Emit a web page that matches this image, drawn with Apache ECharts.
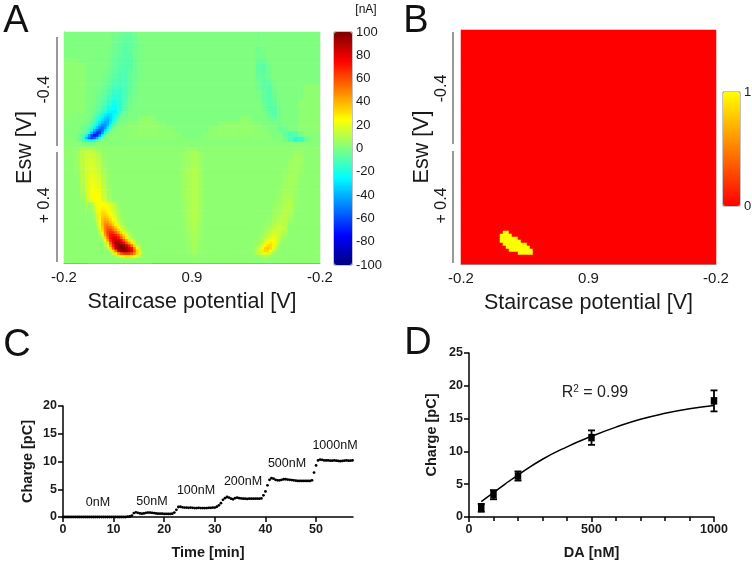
<!DOCTYPE html>
<html>
<head>
<meta charset="utf-8">
<style>
  html, body { margin: 0; padding: 0; background: #fff; }
  #chart { width: 752px; height: 563px; }
</style>
<script src="https://cdn.jsdelivr.net/npm/echarts@6/dist/echarts.min.js"></script>
</head>
<body>
<div id="chart"></div>
<script>
// panel A: current in nA, top row first
const currentRows = [
  [0,0,0,0,0,0,0,0,0,-2,-3,-5,-5,-2,0,0,0,0,0,0,0,0,0,0, 0,0,0,0,0,0,0,0,0,0,0,0,-1,0,0,0,0,0,0,0,0,0,0,0],
  [0,0,0,0,0,0,0,0,0,-3,-5,-6,-6,-3,-1,0,0,0,0,0,0,0,0,0, 0,0,0,0,0,0,0,0,0,0,0,0,-1,0,0,0,0,0,0,0,0,0,0,0],
  [0,0,0,0,0,0,0,0,0,-3,-5,-7,-6,-3,-1,0,0,0,0,0,0,0,0,0, 0,0,0,0,0,0,0,0,0,0,0,0,-1,0,0,0,0,0,0,0,0,0,0,0],
  [0,0,0,0,0,0,0,0,-1,-3,-6,-8,-6,-3,-1,0,0,0,0,0,0,0,0,0, 0,0,0,0,0,0,0,0,0,0,0,0,-3,-1,0,0,0,0,0,0,0,0,0,0],
  [0,0,0,0,0,0,0,0,-1,-4,-6,-8,-7,-3,-1,0,0,0,0,0,0,0,0,0, 0,0,0,0,0,0,0,0,0,0,0,0,-2,-2,0,0,0,0,0,0,0,0,0,0],
  [2,2,2,0,0,0,0,0,-2,-5,-7,-8,-7,-3,-1,0,0,0,0,0,0,0,0,0, 0,0,0,0,0,0,0,0,0,0,0,0,-4,-4,-1,0,0,0,0,0,0,0,0,0],
  [3,3,3,3,0,0,0,0,-2,-5,-8,-9,-7,-3,-1,0,0,0,0,0,0,0,0,0, 0,0,0,0,0,0,0,0,0,0,0,0,-6,-7,-2,0,0,0,0,0,0,0,0,0],
  [3,3,3,3,0,0,0,-1,-3,-6,-9,-9,-6,-3,-1,0,0,0,0,0,0,0,0,0, 0,0,0,0,0,0,0,0,0,0,0,0,-6,-7,-3,0,0,0,0,0,0,0,0,0],
  [3,3,3,3,0,0,0,-2,-4,-7,-10,-10,-6,-3,-1,0,0,0,0,0,0,0,0,0, 0,0,0,0,0,0,0,0,0,0,0,0,-5,-6,-3,0,0,0,0,0,0,0,0,0],
  [3,3,3,3,0,0,-1,-2,-5,-9,-11,-10,-6,-3,0,0,0,0,0,0,0,0,0,0, 0,0,0,0,0,0,0,0,0,0,0,0,-3,-7,-6,-1,0,0,0,0,0,0,0,0],
  [3,3,3,3,0,0,-1,-3,-7,-11,-13,-10,-6,-2,0,0,0,0,0,0,0,0,0,0, 0,0,0,0,0,0,0,0,0,0,0,0,-3,-7,-7,-2,0,0,0,0,0,3,3,3],
  [3,3,3,3,0,-1,-2,-5,-9,-14,-15,-10,-5,-2,0,0,0,0,0,0,0,0,0,0, 0,0,0,0,0,0,0,0,0,0,0,0,-1,-6,-8,-3,0,0,0,0,0,3,3,3],
  [3,3,3,3,0,0,-3,-6,-12,-17,-16,-10,-4,-1,0,0,0,0,0,0,0,0,0,0, 0,0,0,0,0,0,0,0,0,0,0,0,-1,-6,-8,-4,0,0,0,0,0,3,3,3],
  [3,3,3,3,0,-1,-4,-9,-15,-20,-17,-9,-3,-1,0,0,0,0,0,0,0,0,0,0, 0,0,0,0,0,0,0,0,0,0,0,0,0,-4,-8,-6,-1,0,0,0,3,3,3,3],
  [3,3,3,3,0,-2,-6,-12,-20,-24,-17,-7,-2,0,0,0,0,0,0,0,0,0,0,0, 0,0,0,0,0,0,0,0,0,0,0,0,0,-3,-7,-7,-2,0,0,0,3,3,3,3],
  [2,2,2,2,-1,-3,-8,-16,-26,-27,-15,-5,-1,0,0,0,0,0,0,0,0,0,0,0, 0,0,0,0,0,0,0,0,0,0,0,0,0,-1,-6,-8,-2,0,0,0,3,3,3,3],
  [2,2,2,2,-2,-5,-12,-24,-32,-26,-11,-3,0,0,3,4,3,0,0,0,0,0,0,0, 0,0,0,0,0,0,0,0,0,3,3,0,0,0,-3,-5,-1,0,0,0,3,3,3,3],
  [1,1,1,-1,-4,-12,-28,-42,-36,-18,-5,-1,3,3,4,4,4,3,2,0,0,0,0,0, 0,0,0,0,0,3,4,4,4,4,4,3,2,0,0,-1,-2,0,0,0,3,3,3,3],
  [1,1,-1,-3,-12,-36,-58,-52,-28,-8,-1,2,3,3,4,4,4,4,3,3,2,0,0,0, 0,0,0,2,3,4,4,4,4,4,4,4,3,2,0,0,-4,-3,0,0,3,3,3,3],
  [1,1,-2,-8,-30,-66,-72,-50,-18,-4,1,3,3,4,4,4,4,4,3,3,3,2,0,0, 0,0,2,3,3,4,4,4,4,4,4,3,3,3,2,0,0,-6,-10,-8,-2,2,2,2],
  [2,2,-2,-10,-22,-25,-15,-5,-1,1,2,2,2,2,2,2,2,2,2,2,2,2,1,1, 1,1,1,2,2,2,2,2,2,2,2,2,2,2,2,1,1,-3,-10,-18,-14,-5,1,1],
  [2,2,2,2,2,2,2,2,2,2,2,2,2,2,2,2,2,2,2,2,2,2,2,2, 2,2,2,2,2,2,2,2,2,2,2,2,2,2,2,2,2,2,2,2,2,2,2,2],
  [3,3,4,9,12,10,6,3,3,3,3,3,3,3,3,3,3,3,3,3,3,3,3,5, 6,3,3,3,3,3,3,3,3,3,3,3,3,3,3,3,3,3,3,4,4,3,3,3],
  [3,3,6,12,15,14,10,4,3,3,3,3,3,3,3,3,3,3,3,3,3,3,5,6, 8,6,3,3,3,3,3,3,3,3,3,3,3,3,3,3,3,3,3,6,5,3,3,3],
  [3,3,6,12,16,16,12,5,3,3,3,3,3,3,3,3,3,3,3,3,3,3,5,6, 8,6,3,3,3,3,3,3,3,3,3,3,3,3,3,3,3,3,5,7,6,3,3,3],
  [3,3,5,12,17,17,13,6,3,3,3,3,3,3,3,3,3,3,3,3,3,3,5,6, 8,6,3,3,3,3,3,3,3,3,3,3,3,3,3,3,3,3,6,7,5,3,3,3],
  [3,3,5,11,17,18,14,7,4,3,3,3,3,3,3,3,3,3,3,3,3,3,6,8, 10,7,3,3,3,3,3,3,3,3,3,3,3,3,3,3,3,4,6,7,5,3,3,3],
  [3,3,4,11,18,20,17,9,4,3,3,3,3,3,3,3,3,3,3,3,3,3,6,8, 10,7,3,3,3,3,3,3,3,3,3,3,3,3,3,3,3,5,7,7,4,3,3,3],
  [3,3,3,10,18,21,18,10,4,3,3,3,3,3,3,3,3,3,3,3,3,3,6,8, 10,7,3,3,3,3,3,3,3,3,3,3,3,3,3,3,3,6,7,6,3,3,3,3],
  [3,3,3,9,18,22,20,12,5,3,3,3,3,3,3,3,3,3,3,3,3,3,6,8, 10,7,3,3,3,3,3,3,3,3,3,3,3,3,3,3,4,6,7,6,3,3,3,3],
  [3,3,3,8,18,24,23,14,6,3,3,3,3,3,3,3,3,3,3,3,3,3,6,8, 10,7,3,3,3,3,3,3,3,3,3,3,3,3,3,3,5,7,7,5,3,3,3,3],
  [3,3,3,6,16,24,24,15,7,3,3,3,3,3,3,3,3,3,3,3,3,3,6,8, 10,7,3,3,3,3,3,3,3,3,3,3,3,3,3,3,5,8,8,5,3,3,3,3],
  [3,3,3,4,13,24,25,18,10,4,3,3,3,3,3,3,3,3,3,3,3,3,5,8, 10,7,3,3,3,3,3,3,3,3,3,3,3,3,3,4,6,9,10,5,3,3,3,3],
  [3,3,3,3,9,22,26,20,11,5,3,3,3,3,3,3,3,3,3,3,3,3,5,8, 10,7,3,3,3,3,3,3,3,3,3,3,3,3,3,5,7,10,10,4,3,3,3,3],
  [3,3,3,3,5,20,32,25,14,6,3,3,3,3,3,3,3,3,3,3,3,3,5,8, 10,7,3,3,3,3,3,3,3,3,3,3,3,3,3,6,8,11,9,3,3,3,3,3],
  [3,3,3,3,3,20,42,36,17,5,3,3,3,3,3,3,3,3,3,3,3,3,5,8, 10,7,3,3,3,3,3,3,3,3,3,3,3,3,4,7,10,11,7,3,3,3,3,3],
  [3,3,3,3,3,14,44,48,28,10,3,3,3,3,3,3,3,3,3,3,3,3,4,7, 9,6,3,3,3,3,3,3,3,3,3,3,3,3,5,9,12,10,5,3,3,3,3,3],
  [3,3,3,3,3,8,38,58,44,20,6,3,3,3,3,3,3,3,3,3,3,3,4,7, 9,6,3,3,3,3,3,3,3,3,3,3,3,3,7,12,14,9,3,3,3,3,3,3],
  [3,3,3,3,3,3,26,62,62,35,13,3,3,3,3,3,3,3,3,3,3,3,3,6, 8,5,3,3,3,3,3,3,3,3,3,3,3,5,10,15,14,7,3,3,3,3,3,3],
  [3,3,3,3,3,3,13,52,78,58,26,8,3,3,3,3,3,3,3,3,3,3,3,6, 8,5,3,3,3,3,3,3,3,3,3,3,4,9,19,20,12,4,3,3,3,3,3,3],
  [3,3,3,3,3,3,4,30,78,90,58,22,6,3,3,3,3,3,3,3,3,3,3,5, 7,4,3,3,3,3,3,3,3,3,3,3,9,22,30,24,10,3,3,3,3,3,3,3],
  [3,3,3,3,3,3,3,12,52,92,100,68,30,6,3,3,3,3,3,3,3,3,3,5, 7,4,3,3,3,3,3,3,3,3,3,6,18,36,33,16,5,3,3,3,3,3,3,3],
  [3,3,3,3,3,3,3,3,18,42,62,60,38,18,4,3,3,3,3,3,3,3,3,3, 5,3,3,3,3,3,3,3,3,3,3,6,14,16,9,3,3,3,3,3,3,3,3,3],
  [3,3,3,3,3,3,3,3,3,3,5,6,5,3,3,3,3,3,3,3,3,3,3,3, 3,3,3,3,3,3,3,3,3,3,3,3,3,3,3,3,3,3,3,3,3,3,3,3]
]

// half-size cells over the three strong spots of panel A (grid is 96 x 88)
const fineColCount = 96
const fineRowCount = 88
const hotSpotCol = 9
const hotSpotRow = 65
const hotSpot = [
  [4,9,17,22,24,25,24,21,18,14,9,5,3,3,3,3,3,3,3,3,3,3,3,3],
  [3,8,15,22,25,26,25,22,19,15,10,6,3,3,3,3,3,3,3,3,3,3,3,3],
  [3,6,13,21,26,28,27,24,20,16,11,7,4,3,3,3,3,3,3,3,3,3,3,3],
  [3,4,10,20,27,31,30,26,22,18,13,8,4,3,3,3,3,3,3,3,3,3,3,3],
  [3,3,8,18,28,33,33,29,25,20,14,9,5,3,3,3,3,3,3,3,3,3,3,3],
  [3,3,6,16,27,35,37,33,28,22,16,10,6,3,3,3,3,3,3,3,3,3,3,3],
  [3,3,5,14,26,37,41,38,32,25,18,12,7,4,3,3,3,3,3,3,3,3,3,3],
  [3,3,4,12,24,38,45,44,37,29,21,14,9,5,3,3,3,3,3,3,3,3,3,3],
  [3,3,3,10,22,37,49,50,44,35,26,18,11,6,3,3,3,3,3,3,3,3,3,3],
  [3,3,3,7,20,35,50,56,53,45,34,25,16,10,6,3,3,3,3,3,3,3,3,3],
  [3,3,3,5,16,32,50,60,62,55,44,33,22,14,8,4,3,3,3,3,3,3,3,3],
  [3,3,3,4,12,27,47,63,68,66,57,45,33,22,14,8,4,3,3,3,3,3,3,3],
  [3,3,3,3,7,20,42,62,72,74,70,60,46,32,20,12,6,3,3,3,3,3,3,3],
  [3,3,3,3,4,12,32,55,73,80,80,73,58,42,28,17,9,5,3,3,3,3,3,3],
  [3,3,3,3,3,7,21,44,68,83,88,86,76,60,44,30,19,10,5,3,3,3,3,3],
  [3,3,3,3,3,3,12,30,55,76,90,92,88,76,60,44,30,17,8,4,3,3,3,3],
  [3,3,3,3,3,3,8,20,42,68,88,97,100,96,85,70,52,32,16,7,3,3,3,3],
  [3,3,3,3,3,3,5,14,30,58,85,100,100,100,95,85,72,48,26,12,5,3,3,3],
  [3,3,3,3,3,3,3,5,14,32,55,78,92,98,95,88,78,58,35,16,7,3,3,3],
  [3,3,3,3,3,3,3,3,5,14,28,44,58,66,68,66,60,48,34,18,8,4,3,3],
  [3,3,3,3,3,3,3,3,3,3,8,14,20,26,30,30,28,24,18,11,5,3,3,3],
  [3,3,3,3,3,3,3,3,3,3,3,3,4,6,7,7,6,5,4,3,3,3,3,3],
  [3,3,3,3,3,3,3,3,3,3,3,3,3,3,3,3,3,3,3,3,3,3,3,3]
]
const blueSpotCol = 4
const blueSpotRow = 31
const blueSpot = [
  [1,1,1,1,1,1,-2,-5,-9,-14,-20,-26,-30,-30,-26,-20,-14,-7,-2],
  [1,1,1,1,1,-1,-3,-7,-12,-18,-25,-31,-34,-32,-26,-18,-10,-4,-1],
  [1,1,1,1,-1,-2,-5,-9,-15,-22,-30,-36,-38,-33,-24,-14,-6,-2,0],
  [1,1,1,-1,-2,-3,-7,-12,-20,-28,-36,-42,-40,-30,-18,-9,-3,0,0],
  [1,1,1,-2,-3,-5,-10,-17,-26,-36,-44,-46,-38,-24,-12,-4,0,1,2],
  [1,1,-1,-2,-4,-8,-14,-24,-36,-48,-52,-44,-28,-14,-5,0,1,2,2],
  [1,1,-1,-3,-6,-12,-22,-38,-52,-58,-52,-34,-17,-6,0,1,2,2,2],
  [1,-1,-2,-5,-10,-20,-38,-56,-66,-62,-44,-22,-8,0,1,2,2,2,2],
  [1,-2,-5,-10,-22,-42,-62,-70,-66,-46,-24,-8,0,1,2,2,2,2,2],
  [1,-3,-8,-18,-36,-54,-62,-56,-38,-18,-6,0,1,2,2,2,2,2,2],
  [1,-2,-5,-10,-16,-20,-20,-15,-8,-3,0,1,2,2,2,2,2,2,2],
  [2,2,2,-1,-2,-3,-3,-2,2,2,2,2,2,2,2,2,2,2,2]
]
const sideSpotCol = 69
const sideSpotRow = 74
const sideSpot = [
  [3,3,3,3,3,4,5,7,9,11,13,14,14,13],
  [3,3,3,3,3,4,6,8,11,13,15,15,14,11],
  [3,3,3,3,4,5,7,10,13,15,16,15,13,9],
  [3,3,3,3,4,6,9,12,15,18,18,15,11,7],
  [3,3,3,4,5,8,11,15,19,21,19,15,9,5],
  [3,3,3,4,6,10,14,20,24,25,20,13,7,4],
  [3,3,4,5,8,13,19,26,29,27,20,11,5,3],
  [3,3,4,6,11,18,26,32,33,27,17,8,4,3],
  [3,4,5,9,16,26,33,36,32,23,12,5,3,3],
  [3,4,6,12,20,28,33,32,25,15,7,4,3,3],
  [3,3,5,9,14,18,20,18,13,8,4,3,3,3],
  [3,3,3,4,6,8,9,8,6,4,3,3,3,3],
  [3,3,3,3,3,4,4,4,3,3,3,3,3,3]
]
const jetColors = ['#00007f', '#0000ff', '#007fff', '#00ffff', '#7fff7f', '#ffff00', '#ff7f00', '#ff0000', '#7f0000']

// panel B: 0/1 map, the yellow cells per row
const maskColCount = 85
const maskRowCount = 78
const maskBlobRows = [67, 68, 69, 70, 71, 72, 73, 74]
const maskBlobFrom = [14, 13, 13, 13, 14, 15, 16, 19]
const maskBlobTo = [15, 16, 18, 19, 21, 22, 23, 23]

const staircaseTicks = ['-0.2', '0.9', '-0.2']
const eswTicks = ['+ 0.4', '-0.4']

// panel C: time in min, charge in pC
const traceTime = [0, 0.4, 0.8, 1.2, 1.6, 2, 2.4, 2.8, 3.2, 3.6, 4, 4.4, 4.8, 5.2, 5.6, 6, 6.4, 6.8, 7.2, 7.6, 8, 8.4, 8.8, 9.2, 9.6, 10, 10.4, 10.8, 11.2, 11.6, 12, 12.4, 12.8, 13.2, 13.6, 14, 14.4, 14.8, 15.2, 15.6, 16, 16.4, 16.8, 17.2, 17.6, 18, 18.4, 18.8, 19.2, 19.6, 20, 20.4, 20.8, 21.2, 21.6, 22, 22.4, 22.8, 23.2, 23.6, 24, 24.4, 24.8, 25.2, 25.6, 26, 26.4, 26.8, 27.2, 27.6, 28, 28.4, 28.8, 29.2, 29.6, 30, 30.4, 30.8, 31.2, 31.6, 32, 32.4, 32.8, 33.2, 33.6, 34, 34.4, 34.8, 35.2, 35.6, 36, 36.4, 36.8, 37.2, 37.6, 38, 38.4, 38.8, 39.2, 39.6, 40, 40.4, 40.8, 41.2, 41.6, 42, 42.4, 42.8, 43.2, 43.6, 44, 44.4, 44.8, 45.2, 45.6, 46, 46.4, 46.8, 47.2, 47.6, 48, 48.4, 48.8, 49.2, 49.6, 50, 50.4, 50.8, 51.2, 51.6, 52, 52.4, 52.8, 53.2, 53.6, 54, 54.4, 54.8, 55.2, 55.6, 56, 56.4, 56.8, 57.2]
const traceCharge = [0, 0, 0, 0, 0, 0, 0, 0, 0, 0, 0, 0, 0, 0, 0, 0, 0, 0, 0, 0, 0, 0, 0, 0, 0, 0, 0, 0, 0, 0, 0, 0, 0.05, 0.1, 0.25, 0.7, 0.85, 0.75, 0.65, 0.6, 0.65, 0.75, 0.8, 0.8, 0.75, 0.7, 0.65, 0.6, 0.6, 0.6, 0.55, 0.55, 0.55, 0.55, 0.6, 0.8, 1.3, 1.8, 1.85, 1.75, 1.7, 1.7, 1.65, 1.7, 1.65, 1.6, 1.6, 1.65, 1.6, 1.6, 1.6, 1.6, 1.65, 1.65, 1.7, 1.7, 1.85, 2.1, 2.5, 3.1, 3.4, 3.6, 3.5, 3.3, 3.2, 3.4, 3.5, 3.4, 3.35, 3.3, 3.3, 3.25, 3.3, 3.3, 3.3, 3.3, 3.3, 3.3, 3.35, 3.9, 4.6, 5.7, 6.7, 7, 6.9, 6.7, 6.6, 6.6, 6.7, 6.8, 6.8, 6.75, 6.7, 6.65, 6.6, 6.55, 6.5, 6.5, 6.5, 6.5, 6.5, 6.5, 6.5, 6.6, 8, 9.3, 10.2, 10.35, 10.3, 10.2, 10.2, 10.2, 10.15, 10.15, 10.2, 10.15, 10.1, 10.05, 10.1, 10.15, 10.2, 10.15, 10.15, 10.2]
const concLabels = ['0nM', '50nM', '100nM', '200nM', '500nM', '1000nM']
const concLabelX = [98, 152, 196, 243, 287, 335]
const concLabelY = [503, 502, 491, 482, 464, 446]

// panel D: dose response, mean and error in pC, plus the fitted curve
const doseConc = [50, 100, 200, 500, 1000]
const doseCharge = [1.4, 3.4, 6.25, 12.1, 17.7]
const doseError = [0.6, 0.7, 0.7, 1.1, 1.6]
const fitConc = [50, 100, 150, 200, 300, 400, 500, 600, 700, 800, 900, 1000]
const fitCharge = [2.35, 3.7, 5.1, 6.4, 8.8, 10.7, 12.3, 13.7, 14.9, 15.8, 16.5, 17]

const ink = '#1a1a1a'
const font = 'Liberation Sans'

const blockData = (rows, col0, row0) => {
  const cells = []
  rows.forEach((row, r) => row.forEach((v, c) => cells.push([col0 + c, row0 + r, v])))
  return cells
}

const maskData = []
for (let r = 0; r < maskRowCount; r++) {
  for (let c = 0; c < maskColCount; c++) {
    const k = maskBlobRows.indexOf(r)
    const on = k >= 0 && c >= maskBlobFrom[k] && c <= maskBlobTo[k]
    maskData.push([c, r, on ? 1 : 0])
  }
}

const indexList = (n) => Array.from({ length: n }, (_, i) => i)

// hidden band axes carry the cells, a second visible pair carries the ticks
const heatmapAxes = (gridIndex, colCount, rowCount, eswGap) => ({
  x: [
    { gridIndex, type: 'category', show: false, data: indexList(colCount) },
    {
      gridIndex,
      type: 'category',
      position: 'bottom',
      boundaryGap: false,
      data: staircaseTicks,
      name: 'Staircase potential [V]',
      nameLocation: 'middle',
      nameGap: 28,
      nameTextStyle: { fontSize: 21.5, color: ink },
      axisLine: { lineStyle: { color: '#999', width: 1 } },
      axisTick: { length: 4, alignWithLabel: true, lineStyle: { color: '#555' } },
      axisLabel: { fontSize: 15, color: ink, margin: 7, interval: 0 },
    },
  ],
  y: [
    { gridIndex, type: 'category', show: false, inverse: true, data: indexList(rowCount) },
    {
      gridIndex,
      type: 'category',
      position: 'left',
      data: eswTicks,
      name: 'Esw [V]',
      nameLocation: 'middle',
      nameGap: eswGap,
      nameTextStyle: { fontSize: 21.5, color: ink },
      axisLine: { lineStyle: { color: '#bbb', width: 1 } },
      axisTick: { show: false },
      axisLabel: { fontSize: 16, color: ink, rotate: 90, margin: 11, align: 'center', verticalAlign: 'bottom' },
    },
  ],
})

const colorbarAxes = (gridIndex, min, max, interval) => ({
  x: { gridIndex, type: 'value', show: false },
  y: {
    gridIndex,
    type: 'value',
    position: 'right',
    min,
    max,
    interval,
    splitLine: { show: false },
    axisLine: { show: false },
    axisTick: { show: false },
    axisLabel: { fontSize: 13, color: ink, margin: 4 },
  },
})

const lineAxis = (extra) => ({
  type: 'value',
  nameLocation: 'middle',
  nameTextStyle: { fontSize: 14.5, fontWeight: 'bold', color: ink },
  splitLine: { show: false },
  axisLine: { lineStyle: { color: '#000', width: 1.5 } },
  axisTick: { length: 5, lineStyle: { color: '#000', width: 1.5 } },
  axisLabel: { fontSize: 12.5, fontWeight: 'bold', color: ink, margin: 6, formatter: (v) => String(v) },
  ...extra,
})

const axesA = heatmapAxes(0, currentRows[0].length, currentRows.length, 28)
const axesB = heatmapAxes(2, maskColCount, maskRowCount, 27)
const barA = colorbarAxes(1, -100, 100, 20)
const barB = colorbarAxes(3, 0, 1, 1)

const bracket = (x, y1, y2) => ({
  type: 'line',
  shape: { x1: x, y1, x2: x, y2 },
  style: { stroke: '#777', lineWidth: 1.5 },
})
const note = (text, x, y, fontSize, extra) => ({
  type: 'text',
  x,
  y,
  style: { text, fontSize, fontFamily: font, fill: '#111', align: 'center', verticalAlign: 'middle', ...extra },
})

const fineSeries = (data) => ({ type: 'heatmap', silent: true, xAxisIndex: 8, yAxisIndex: 8, data, progressive: 0 })

const myChart = echarts.init(document.getElementById('chart'), null, { renderer: 'canvas' })
myChart.setOption({
  animation: false,
  backgroundColor: '#fff',
  textStyle: { fontFamily: font },
  tooltip: { show: false },
  grid: [
    { left: 64, top: 32, width: 256, height: 231, outerBoundsMode: 'none' },
    { left: 334, top: 32, width: 18, height: 233, outerBoundsMode: 'none', show: true, borderColor: '#888', borderWidth: 1, backgroundColor: 'transparent' },
    { left: 461, top: 30, width: 255, height: 234, outerBoundsMode: 'none' },
    { left: 723, top: 92, width: 17, height: 114, outerBoundsMode: 'none', show: true, borderColor: '#888', borderWidth: 1, backgroundColor: 'transparent' },
    { left: 63, top: 406, width: 290, height: 111, outerBoundsMode: 'none' },
    { left: 469, top: 353, width: 245, height: 164, outerBoundsMode: 'none' },
  ],
  xAxis: [
    ...axesA.x,
    barA.x,
    ...axesB.x,
    barB.x,
    lineAxis({
      gridIndex: 4,
      min: 0,
      max: 57.3,
      name: 'Time [min]',
      nameGap: 28,
      axisTick: { length: 5, lineStyle: { color: '#000', width: 1.5 }, customValues: [0, 10, 20, 30, 40, 50] },
      axisLabel: { fontSize: 12.5, fontWeight: 'bold', color: ink, margin: 6, customValues: [0, 10, 20, 30, 40, 50] },
    }),
    lineAxis({
      gridIndex: 5,
      min: 0,
      max: 1000,
      interval: 500,
      name: 'DA [nM]',
      nameGap: 28,
      minorTick: { show: true, splitNumber: 5, length: 4, lineStyle: { color: '#000', width: 1.5 } },
    }),
    { gridIndex: 0, type: 'category', show: false, data: indexList(fineColCount) },
  ],
  yAxis: [
    ...axesA.y,
    barA.y,
    ...axesB.y,
    barB.y,
    lineAxis({ gridIndex: 4, min: 0, max: 20, interval: 5, name: 'Charge [pC]', nameGap: 28 }),
    lineAxis({ gridIndex: 5, min: 0, max: 25, interval: 5, name: 'Charge [pC]', nameGap: 30 }),
    { gridIndex: 0, type: 'category', show: false, inverse: true, data: indexList(fineRowCount) },
  ],
  visualMap: [
    {
      type: 'continuous',
      seriesIndex: [0, 1, 2, 3],
      min: -100,
      max: 100,
      left: 334,
      top: 32,
      padding: 0,
      itemWidth: 18,
      itemHeight: 233,
      calculable: false,
      hoverLink: false,
      inRange: { color: jetColors },
    },
    {
      type: 'continuous',
      seriesIndex: 4,
      min: 0,
      max: 1,
      left: 723,
      top: 92,
      padding: 0,
      itemWidth: 17,
      itemHeight: 114,
      calculable: false,
      hoverLink: false,
      inRange: { color: ['#ff0000', '#ffff00'] },
    },
  ],
  series: [
    { type: 'heatmap', silent: true, xAxisIndex: 0, yAxisIndex: 0, data: blockData(currentRows, 0, 0), progressive: 0 },
    fineSeries(blockData(hotSpot, hotSpotCol, hotSpotRow)),
    fineSeries(blockData(blueSpot, blueSpotCol, blueSpotRow)),
    fineSeries(blockData(sideSpot, sideSpotCol, sideSpotRow)),
    { type: 'heatmap', silent: true, xAxisIndex: 3, yAxisIndex: 3, data: maskData, progressive: 0 },
    {
      type: 'scatter',
      silent: true,
      xAxisIndex: 6,
      yAxisIndex: 6,
      symbolSize: 2.8,
      itemStyle: { color: '#000', opacity: 1 },
      data: traceTime.map((t, i) => [t, traceCharge[i]]),
      z: 5,
    },
    {
      type: 'line',
      silent: true,
      xAxisIndex: 7,
      yAxisIndex: 7,
      smooth: true,
      showSymbol: false,
      lineStyle: { color: '#000', width: 1.5 },
      data: fitConc.map((c, i) => [c, fitCharge[i]]),
    },
    {
      type: 'custom',
      silent: true,
      xAxisIndex: 7,
      yAxisIndex: 7,
      data: doseConc.map((c, i) => [c, doseCharge[i] - doseError[i], doseCharge[i] + doseError[i]]),
      renderItem: (params, api) => {
        const lo = api.coord([api.value(0), api.value(1)])
        const hi = api.coord([api.value(0), api.value(2)])
        const style = { stroke: '#000', lineWidth: 1.8, fill: 'none' }
        return {
          type: 'group',
          children: [
            { type: 'line', shape: { x1: lo[0], y1: lo[1], x2: hi[0], y2: hi[1] }, style },
            { type: 'line', shape: { x1: lo[0] - 3.5, y1: lo[1], x2: lo[0] + 3.5, y2: lo[1] }, style },
            { type: 'line', shape: { x1: hi[0] - 3.5, y1: hi[1], x2: hi[0] + 3.5, y2: hi[1] }, style },
          ],
        }
      },
      z: 4,
    },
    {
      type: 'scatter',
      silent: true,
      xAxisIndex: 7,
      yAxisIndex: 7,
      symbol: 'rect',
      symbolSize: [6.5, 7.5],
      itemStyle: { color: '#000', opacity: 1 },
      data: doseConc.map((c, i) => [c, doseCharge[i]]),
      z: 5,
    },
  ],
  graphic: [
    bracket(57, 37, 146),
    bracket(57, 152, 262),
    bracket(453, 32, 144),
    bracket(453, 151, 263),
    note('A', 16, 22, 38),
    note('B', 416, 22, 38),
    note('C', 17, 346, 38),
    note('D', 418, 344, 38),
    note('[nA]', 366, 10, 12),
    ...concLabels.map((label, i) => note(label, concLabelX[i], concLabelY[i], 12.5)),
    {
      type: 'text',
      x: 595,
      y: 393,
      style: {
        text: 'R{sup|2} = 0.99',
        rich: {
          sup: { fontSize: 10, verticalAlign: 'top', padding: [0, 0, 7, 0], fontFamily: font, fill: '#222' },
        },
        fontSize: 16,
        fontFamily: font,
        fill: '#222',
        align: 'center',
        verticalAlign: 'middle',
      },
    },
  ],
})
</script>
</body>
</html>
